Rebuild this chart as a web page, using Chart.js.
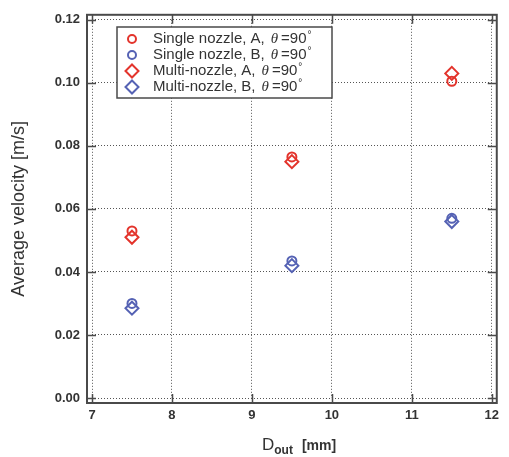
<!DOCTYPE html>
<html>
<head>
<meta charset="utf-8">
<script src="https://cdn.jsdelivr.net/npm/chart.js@4/dist/chart.umd.min.js"></script>
<style>
  html, body { margin: 0; padding: 0; background: #fff; }
  #wrap { width: 509px; height: 457px; }
</style>
</head>
<body>
<div id="wrap"><canvas id="myChart" width="509" height="457"></canvas></div>
<script>
// data
const dOut = [7.5, 9.5, 11.5];
const singleA = [0.053, 0.0765, 0.1005];
const singleB = [0.030, 0.0435, 0.057];
const multiA = [0.051, 0.075, 0.103];
const multiB = [0.0285, 0.042, 0.056];
const seriesLabels = ['Single nozzle, A,', 'Single nozzle, B,', 'Multi-nozzle, A,', 'Multi-nozzle, B,'];
const xTicks = [7, 8, 9, 10, 11, 12];
const yTicks = [0.00, 0.02, 0.04, 0.06, 0.08, 0.10, 0.12];

const RED = '#e3342c';
const BLUE = '#5562b4';
const FRAME = '#4a4a4a';

function pts(ys) {
    return dOut.map((x, i) => ({ x: x, y: ys[i] }));
}

function makeSet(label, ys, color, shape) {
    return {
        label: label,
        data: pts(ys),
        showLine: false,
        pointStyle: shape,
        pointRadius: shape === 'circle' ? 4.5 : 6.5,
        pointBorderWidth: 2,
        pointBorderColor: color,
        pointBackgroundColor: 'rgba(0,0,0,0)'
    };
}

// frame, ticks, legend box and x title with subscript
const decorations = {
    id: 'decorations',
    afterDraw(chart) {
        const ctx = chart.ctx;
        const a = chart.chartArea;
        const xs = chart.scales.x, ys = chart.scales.y;
        const off = 5;
        const L = a.left - off, R = a.right + off, T = a.top - off, B = a.bottom + off;
        ctx.save();
        ctx.strokeStyle = FRAME;
        ctx.lineWidth = 2;
        ctx.strokeRect(L, T, R - L, B - T);

        // tick marks pointing inward
        ctx.lineWidth = 1.5;
        ctx.beginPath();
        xTicks.forEach(v => {
            const px = Math.round(xs.getPixelForValue(v)) + 0.5;
            ctx.moveTo(px, B); ctx.lineTo(px, B - 9);
            ctx.moveTo(px, T); ctx.lineTo(px, T + 9);
        });
        yTicks.forEach(v => {
            const py = Math.round(ys.getPixelForValue(v)) + 0.5;
            ctx.moveTo(L, py); ctx.lineTo(L + 9, py);
            ctx.moveTo(R, py); ctx.lineTo(R - 9, py);
        });
        ctx.stroke();

        // legend
        const bx = 117, by = 27, bw = 215, bh = 71;
        ctx.fillStyle = '#fff';
        ctx.fillRect(bx, by, bw, bh);
        ctx.lineWidth = 1.5;
        ctx.strokeStyle = FRAME;
        ctx.strokeRect(bx, by, bw, bh);
        chart.data.datasets.forEach((ds, i) => {
            const cy = by + 12 + i * 16;
            const cx = bx + 15;
            ctx.strokeStyle = ds.pointBorderColor;
            ctx.lineWidth = 2;
            ctx.beginPath();
            if (ds.pointStyle === 'circle') {
                ctx.arc(cx, cy, 4, 0, Math.PI * 2);
            } else {
                ctx.moveTo(cx, cy - 6.5); ctx.lineTo(cx + 6.5, cy);
                ctx.lineTo(cx, cy + 6.5); ctx.lineTo(cx - 6.5, cy);
                ctx.closePath();
            }
            ctx.stroke();
            ctx.fillStyle = '#333';
            ctx.textBaseline = 'middle';
            ctx.textAlign = 'left';
            ctx.font = '15px "Liberation Sans", Arial, sans-serif';
            let tx = bx + 36;
            ctx.fillText(ds.label, tx, cy);
            tx += ctx.measureText(ds.label).width + 6;
            ctx.font = 'italic 15px "Liberation Serif", serif';
            ctx.fillText('\u03b8', tx, cy);
            tx += ctx.measureText('\u03b8').width + 3;
            ctx.font = '15px "Liberation Sans", Arial, sans-serif';
            ctx.fillText('=90', tx, cy);
            tx += ctx.measureText('=90').width + 1;
            ctx.font = '10px "Liberation Sans", Arial, sans-serif';
            ctx.fillText('\u00b0', tx, cy - 4);
        });

        // x axis title: D_out [mm]
        ctx.fillStyle = '#333';
        ctx.textBaseline = 'alphabetic';
        ctx.textAlign = 'left';
        let x0 = 262;
        const yb = 450;
        ctx.font = '17px "Liberation Sans", Arial, sans-serif';
        ctx.fillText('D', x0, yb);
        x0 += ctx.measureText('D').width;
        ctx.font = 'bold 12px "Liberation Sans", Arial, sans-serif';
        ctx.fillText('out', x0, yb + 4);
        x0 += ctx.measureText('out').width + 9;
        ctx.font = 'bold 14px "Liberation Sans", Arial, sans-serif';
        ctx.fillText('[mm]', x0, yb);
        ctx.restore();
    }
};

const chartCanvas = document.getElementById('myChart');
const myChart = new Chart(chartCanvas, {
    type: 'scatter',
    data: {
        datasets: [
            makeSet(seriesLabels[0], singleA, RED, 'circle'),
            makeSet(seriesLabels[1], singleB, BLUE, 'circle'),
            makeSet(seriesLabels[2], multiA, RED, 'rectRot'),
            makeSet(seriesLabels[3], multiB, BLUE, 'rectRot')
        ]
    },
    options: {
        responsive: false,
        animation: false,
        layout: { padding: { top: 18, right: 6, left: 8, bottom: 0 } },
        plugins: {
            legend: { display: false },
            tooltip: { enabled: false }
        },
        scales: {
            x: {
                type: 'linear',
                min: 7,
                max: 12,
                afterBuildTicks: s => { s.ticks = xTicks.map(v => ({ value: v })); },
                ticks: {
                    color: '#333',
                    padding: 10,
                    font: { family: '"Liberation Sans", Arial, sans-serif', size: 13, weight: 'bold' },
                    callback: v => String(v)
                },
                grid: { color: '#555', lineWidth: 1, drawTicks: false },
                border: { display: false, dash: [1, 2] },
                afterFit: s => { s.height = 457 - 398; }
            },
            y: {
                type: 'linear',
                min: 0,
                max: 0.12,
                afterBuildTicks: s => { s.ticks = yTicks.map(v => ({ value: v })); },
                ticks: {
                    color: '#333',
                    padding: 12,
                    font: { family: '"Liberation Sans", Arial, sans-serif', size: 13, weight: 'bold' },
                    callback: v => v.toFixed(2)
                },
                title: {
                    display: true,
                    text: 'Average velocity [m/s]',
                    color: '#333',
                    font: { family: '"Liberation Sans", Arial, sans-serif', size: 18 },
                    padding: { top: 0, bottom: 2 }
                },
                grid: { color: '#555', lineWidth: 1, drawTicks: false },
                border: { display: false, dash: [1, 2] },
                afterFit: s => { s.width = 84; }
            }
        }
    },
    plugins: [decorations]
});
</script>
</body>
</html>
